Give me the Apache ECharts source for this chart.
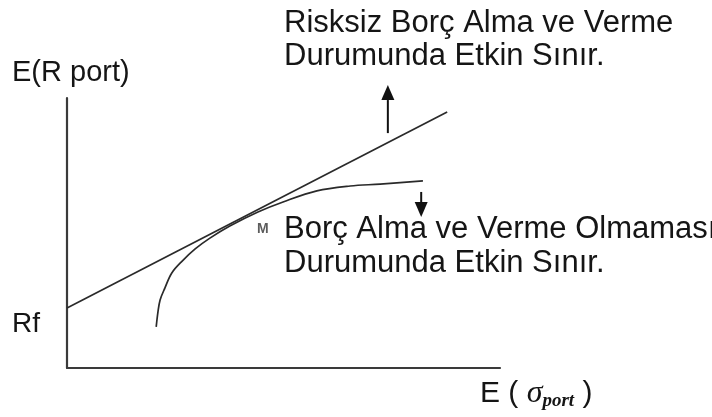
<!DOCTYPE html>
<html>
<head>
<meta charset="utf-8">
<script src="https://cdn.jsdelivr.net/npm/echarts@6/dist/echarts.min.js"></script>
<style>
  html, body { margin: 0; padding: 0; background: #fff; }
  #chart { width: 712px; height: 417px; }
</style>
</head>
<body>
<div id="chart"></div>
<script>
// Capital market line: from Rf on the return axis, tangent to the frontier at M
const cmlLine = [[0, 22.2], [87.8, 94.8]];

// Efficient frontier without borrowing and lending (risk, expected return)
const frontier = [
  [20.6, 15.2], [21.0, 20.7], [21.5, 25.2], [22.6, 29.6], [24.2, 35.2],
  [26.6, 39.6], [29.6, 44.1], [33.0, 48.1], [37.6, 52.6], [44.1, 57.8],
  [49.9, 61.5], [57.7, 65.6], [65.4, 67.4], [72.3, 68.1], [82.2, 69.3]
];

// Tangency portfolio
const pointM = [44.1, 57.8];

// Direction arrows: [x, yFrom, yTo]
const arrows = [
  [74.1, 87.0, 104.8],
  [81.8, 65.2, 55.9]
];

// Text
const yAxisTitle = 'E(R port)';
const rfLabel = 'Rf';
const cmlText = ['Risksiz Borç Alma ve Verme', 'Durumunda Etkin Sınır.'];
const frontierText = ['Borç Alma ve Verme Olmaması', 'Durumunda Etkin Sınır.'];

const ink = '#151515';
const font = '"Liberation Sans", Arial, sans-serif';

const chart = echarts.init(document.getElementById('chart'), null, { renderer: 'canvas' });

// Vertical arrow: shaft plus filled head at the "to" end
function renderArrow(params, api) {
  const x = api.value(0);
  const from = api.coord([x, api.value(1)]);
  const to = api.coord([x, api.value(2)]);
  const dir = to[1] < from[1] ? -1 : 1;
  const headLen = 15, headHalf = 6.5;
  const base = to[1] - dir * headLen;
  return {
    type: 'group',
    children: [
      {
        type: 'line',
        shape: { x1: from[0], y1: from[1], x2: to[0], y2: base },
        style: { stroke: '#111', lineWidth: 2 }
      },
      {
        type: 'polygon',
        shape: { points: [[to[0], to[1]], [to[0] - headHalf, base], [to[0] + headHalf, base]] },
        style: { fill: '#111' }
      }
    ]
  };
}

chart.setOption({
  backgroundColor: '#fff',
  animation: false,
  grid: { left: 67, top: 98, width: 433, height: 270 },
  xAxis: {
    type: 'value', min: 0, max: 100,
    axisLine: { show: true, onZero: false, lineStyle: { color: '#3a3a3a', width: 2.2 } },
    axisTick: { show: false }, axisLabel: { show: false }, splitLine: { show: false }
  },
  yAxis: {
    type: 'value', min: 0, max: 100,
    axisLine: { show: true, onZero: false, lineStyle: { color: '#3a3a3a', width: 2.2 } },
    axisTick: { show: false }, axisLabel: { show: false }, splitLine: { show: false }
  },
  series: [
    {
      type: 'line',
      data: cmlLine,
      showSymbol: false,
      clip: false,
      lineStyle: { color: '#2a2a2a', width: 1.7 },
      silent: true
    },
    {
      type: 'line',
      data: frontier,
      smooth: 0.35,
      showSymbol: false,
      clip: false,
      lineStyle: { color: '#2a2a2a', width: 1.7 },
      silent: true
    },
    {
      type: 'scatter',
      data: [pointM],
      symbolSize: 0,
      silent: true,
      label: {
        show: true,
        formatter: 'M',
        position: 'bottom',
        distance: 10,
        offset: [5, 0],
        color: '#333',
        fontSize: 14,
        fontWeight: 'bold',
        fontFamily: font
      }
    },
    {
      type: 'custom',
      data: arrows,
      clip: false,
      silent: true,
      renderItem: renderArrow
    }
  ],
  graphic: [
    {
      type: 'text', left: 12, top: 58,
      style: { text: yAxisTitle, font: '29px ' + font, fill: ink }
    },
    {
      type: 'text', left: 12, top: 310,
      style: { text: rfLabel, font: '28px ' + font, fill: ink }
    },
    {
      type: 'text', left: 284, top: 7,
      style: { text: cmlText.join('\n'), font: '31px ' + font, fill: ink, lineHeight: 33 }
    },
    {
      type: 'text', left: 284, top: 212,
      style: { text: frontierText.join('\n'), font: '31px ' + font, fill: ink, lineHeight: 34 }
    },
    {
      type: 'text', left: 480, top: 378,
      style: {
        text: '{a|E ( }{s|σ}{p|port}{a| )}',
        rich: {
          a: { font: '30px ' + font, fill: ink },
          s: { font: 'italic 32px "Liberation Serif", serif', fill: ink },
          p: { font: 'italic bold 19px "Liberation Serif", serif', fill: ink, padding: [14, 0, 0, 0] }
        }
      }
    }
  ]
});
</script>
</body>
</html>
